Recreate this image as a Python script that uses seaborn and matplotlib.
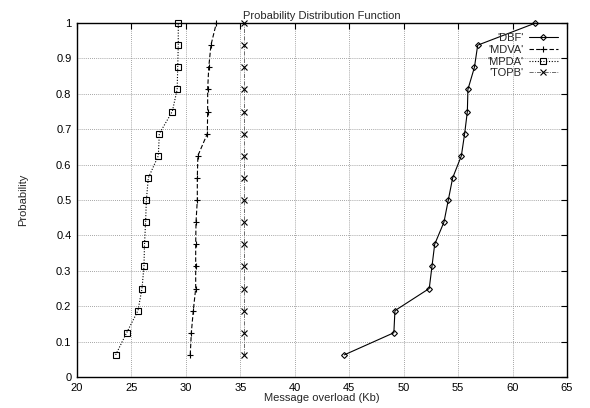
import numpy as np
import pandas as pd
import matplotlib
matplotlib.use("Agg")
import matplotlib.pyplot as plt
import seaborn as sns

# Cumulative probability levels (16 runs)
probability = [0.0625, 0.125, 0.1875, 0.25, 0.3125, 0.375, 0.4375, 0.5,
               0.5625, 0.625, 0.6875, 0.75, 0.8125, 0.875, 0.9375, 1.0]

# Message overload (Kb) per protocol
dbf = [44.55, 49.1, 49.2, 52.35, 52.6, 52.85, 53.7, 54.1,
       54.5, 55.3, 55.6, 55.85, 55.9, 56.5, 56.8, 62.1]
mdva = [30.4, 30.5, 30.68, 30.9, 30.9, 30.9, 30.93, 31.05,
        31.05, 31.1, 31.97, 32.0, 32.0, 32.1, 32.3, 32.8]
mpda = [23.55, 24.56, 25.6, 25.97, 26.15, 26.2, 26.3, 26.37,
        26.55, 27.47, 27.56, 28.75, 29.2, 29.25, 29.3, 29.3]
topb = [35.3] * 16

labels = ["'DBF'", "'MDVA'", "'MPDA'", "'TOPB'"]
x_ticks = [20, 25, 30, 35, 40, 45, 50, 55, 60, 65]
y_ticks = [0, 0.1, 0.2, 0.3, 0.4, 0.5, 0.6, 0.7, 0.8, 0.9, 1]

sns.set_style("white")
plt.rcParams["font.family"] = ["Liberation Sans", "DejaVu Sans"]
plt.rcParams["font.size"] = 8

fig = plt.figure(figsize=(5.9, 4.08), dpi=100)
ax = fig.add_axes([0.1305, 0.076, 0.8305, 0.8675])

styles = [
    (dbf, "D", "-", 3.0, 0.8, "black"),
    (mdva, "+", (0, (4, 2)), 4.5, 0.8, "black"),
    (mpda, "s", (0, (1, 1.5)), 4.0, 0.8, "black"),
    (topb, "x", (0, (5, 1.5, 1, 1.5)), 3.8, 0.6, "#555555"),
]
for (xs, mk, ls, ms, lw, col), lab in zip(styles, labels):
    df = pd.DataFrame({"overload": xs, "prob": probability})
    sns.lineplot(data=df, x="overload", y="prob", sort=False, ax=ax,
                 estimator=None, errorbar=None,
                 color=col, marker=mk, linestyle=ls, markersize=ms,
                 linewidth=lw, markerfacecolor="none", markeredgecolor="black",
                 markeredgewidth=0.8, label=lab, clip_on=False, zorder=3)

ax.set_xlim(20, 65)
ax.set_ylim(0, 1)
ax.set_xticks(x_ticks)
ax.set_yticks(y_ticks)
ax.set_xticklabels([str(t) for t in x_ticks])
ax.set_yticklabels([f"{t:g}" for t in y_ticks])
ax.grid(True, color="#888888", linestyle=(0, (1, 1.5)), linewidth=0.6)
ax.set_axisbelow(True)
for s in ax.spines.values():
    s.set_color("black")
    s.set_linewidth(1.0)
ax.tick_params(direction="in", length=4, width=0.8, top=True, right=True,
               labelsize=8, colors="black", pad=4)

ax.set_title("Probability Distribution Function", fontsize=8, pad=3)
ax.set_xlabel("Message overload (Kb)", fontsize=8, labelpad=0)
ax.set_ylabel("Probability", fontsize=8, labelpad=20)

ax.legend(loc="upper right", bbox_to_anchor=(0.995, 0.99), frameon=False,
          markerfirst=False, fontsize=8, handlelength=2.6, handletextpad=0.5,
          labelspacing=0.15, borderaxespad=0.2)

fig.savefig("out.png", dpi=100)
